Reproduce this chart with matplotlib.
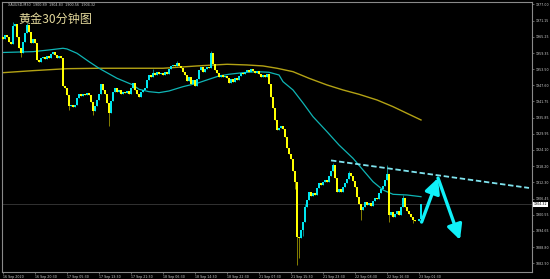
import numpy as np
import matplotlib as mpl
mpl.use('Agg')
import matplotlib.pyplot as plt
import matplotlib.transforms as mtransforms

# XAUUSD M30 closes, one per bar
first_open = 1965.0
closes = [
    1964.5, 1966.0, 1965.2, 1963.5, 1962.8, 1969.0, 1969.8, 1965.0, 1961.0, 1959.5,
    1963.4, 1966.5, 1969.5, 1967.0, 1963.0, 1964.5, 1963.0, 1956.8, 1956.0, 1957.5,
    1958.0, 1957.2, 1958.3, 1957.6, 1959.0, 1959.8, 1958.5, 1957.5, 1958.2, 1957.4,
    1947.3, 1946.5, 1944.0, 1940.0, 1940.6, 1939.8, 1940.5, 1943.0, 1944.5, 1943.8,
    1944.6, 1944.0, 1944.8, 1944.2, 1941.5, 1938.2, 1940.0, 1942.2, 1944.3, 1948.0,
    1946.0, 1944.5, 1941.0, 1937.5, 1941.8, 1945.0, 1946.8, 1945.2, 1946.0, 1944.5,
    1945.3, 1944.8, 1945.6, 1944.6, 1946.8, 1948.5, 1946.0, 1944.5, 1943.2, 1945.0,
    1945.8, 1946.5, 1949.5, 1951.4, 1950.8, 1952.0, 1951.5, 1952.3, 1951.6, 1952.2,
    1951.5, 1952.4, 1951.8, 1953.5, 1954.5, 1955.0, 1954.8, 1955.6, 1954.5, 1954.0,
    1952.5, 1951.4, 1949.3, 1950.5, 1948.0, 1949.5, 1947.2, 1950.0, 1953.2, 1954.2,
    1952.6, 1953.5, 1954.2, 1953.8, 1959.2, 1955.5, 1953.0, 1952.0, 1950.6, 1951.2,
    1950.6, 1951.0, 1950.2, 1948.5, 1950.0, 1948.8, 1950.4, 1949.5, 1951.0, 1952.2,
    1951.6, 1952.5, 1953.0, 1952.6, 1953.4, 1952.8, 1952.2, 1952.8, 1951.6, 1950.8,
    1951.3, 1950.5, 1951.8, 1948.0, 1943.4, 1939.5, 1935.0, 1931.5, 1932.0, 1932.8,
    1931.6, 1929.0, 1925.0, 1922.5, 1921.0, 1916.5, 1912.5, 1892.5, 1892.0, 1895.0,
    1898.0, 1903.4, 1906.0, 1908.8, 1907.5, 1908.3, 1907.8, 1910.3, 1912.1, 1911.3,
    1912.5, 1913.2, 1912.3, 1914.5, 1916.5, 1918.5, 1914.0, 1909.0, 1909.8, 1908.8,
    1910.5, 1912.0, 1913.5, 1915.6, 1914.6, 1913.0, 1910.6, 1907.0, 1904.5, 1902.3,
    1903.5, 1905.2, 1904.0, 1904.8, 1903.8, 1905.5, 1906.8, 1906.2, 1908.5, 1909.8,
    1911.0, 1913.2, 1915.5, 1900.5, 1901.5, 1899.8, 1901.0, 1902.0, 1900.5, 1903.4,
    1906.8, 1903.5, 1902.0, 1900.8, 1899.8, 1898.8, 1898.2, 1898.4, 1899.0, 1904.32,
]
# wicks that stick out of the bodies
wick_highs = {5: 1970.5, 12: 1970.3, 75: 1953.5, 87: 1956.5, 104: 1960.2,
              151: 1904.5, 165: 1919.5, 173: 1916.5, 192: 1918.6, 200: 1907.8}
wick_lows = {9: 1958.0, 33: 1938.5, 45: 1937.0, 53: 1933.0, 146: 1910.0,
             147: 1882.3, 148: 1885.0, 150: 1893.0, 179: 1898.6, 193: 1898.0, 205: 1897.5}

# moving averages, sampled (bar, price)
ma_fast_bars = [0, 15, 23, 30, 32, 37, 43, 48, 57, 65, 68, 73, 78, 83, 90, 97, 103, 108, 113, 120,
                127, 133, 138, 140, 145, 150, 155, 162, 168, 175, 180, 185, 190, 195, 202, 209]
ma_fast = [1959.55, 1959.85, 1960.46, 1961.08, 1960.83, 1959.26, 1956.21, 1953.81, 1950.17, 1947.74,
           1946.17, 1945.30, 1944.94, 1945.55, 1947.12, 1948.35, 1949.81, 1951.01, 1951.63, 1952.21,
           1952.57, 1952.35, 1951.37, 1948.94, 1945.92, 1941.19, 1936.21, 1930.75, 1925.92, 1921.08,
           1916.83, 1912.57, 1909.55, 1907.99, 1907.74, 1907.12]
ma_slow_bars = [0, 15, 32, 48, 65, 80, 97, 112, 122, 130, 137, 145, 153, 162, 170, 178, 187, 195, 203, 209]
ma_slow = [1952.21, 1952.94, 1953.66, 1953.81, 1953.81, 1953.81, 1954.65, 1955.26, 1955.01, 1954.65,
           1953.81, 1952.57, 1950.17, 1947.74, 1945.92, 1944.35, 1942.28, 1939.85, 1937.08, 1935.01]

# drawn objects: trend line and forecast arrows (bar, price)
trend_bars = [164, 263]
trend_prices = [1920.3, 1910.3]
arrow_bars = [209.3, 217.5, 228.5]
arrow_prices = [1897.9, 1913.9, 1891.4]

last_price = 1904.32
y_ticks = [1977.00, 1971.15, 1965.25, 1959.35, 1953.50, 1947.60, 1941.75, 1935.85, 1929.95,
           1924.10, 1918.20, 1912.30, 1906.45, 1900.55, 1894.65, 1888.80, 1882.90]
x_tick_labels = ['16 Sep 2020', '16 Sep 20:30', '17 Sep 05:30', '17 Sep 13:30', '17 Sep 21:30',
                 '18 Sep 06:30', '18 Sep 14:30', '18 Sep 22:30', '21 Sep 07:30', '21 Sep 15:30',
                 '21 Sep 23:30', '22 Sep 08:30', '22 Sep 16:30', '23 Sep 01:30']

closes = np.array(closes)
opens = np.concatenate([[first_open], closes[:-1]])
idx = np.arange(len(closes))
highs = np.maximum(opens, closes)
lows = np.minimum(opens, closes)
for k, v in wick_highs.items():
    highs[k] = v
for k, v in wick_lows.items():
    lows[k] = v
up = closes >= opens
body_bottom = np.minimum(opens, closes)
body = np.maximum(np.abs(closes - opens), 0.25)

fig = plt.figure(figsize=(5.5, 2.79), dpi=100, facecolor='black')
ax = fig.add_axes([2 / 550, 7 / 279, 530 / 550, 270 / 279], facecolor='black')

ax.axhline(last_price, color='#3a3a3a', lw=0.6, zorder=1)
ax.plot(ma_slow_bars, ma_slow, color='#b3a214', lw=1.0, zorder=2)
ax.plot(ma_fast_bars, ma_fast, color='#0fb5b5', lw=0.9, zorder=2)

ax.vlines(idx[up], lows[up], highs[up], color='#0a9a9a', lw=0.6, zorder=3)
ax.vlines(idx[~up], lows[~up], highs[~up], color='#9a9200', lw=0.6, zorder=3)
ax.bar(idx[up], body[up], bottom=body_bottom[up], width=0.75, color='#00e6f0', lw=0, zorder=4)
ax.bar(idx[~up], body[~up], bottom=body_bottom[~up], width=0.75, color='#ffff00', lw=0, zorder=4)

ax.plot(trend_bars, trend_prices, color='#7fe3ee', lw=1.3, ls=(0, (3, 1.5)), zorder=5)
for i in range(2):
    ax.annotate('', xy=(arrow_bars[i + 1], arrow_prices[i + 1]),
                xytext=(arrow_bars[i], arrow_prices[i]),
                arrowprops=dict(arrowstyle='-|>,head_length=0.9,head_width=0.45',
                                color='#10f0f8', lw=2.4, shrinkA=0, shrinkB=0),
                zorder=6)

ax.set_xlim(-0.5, 264.5)
ax.set_ylim(1879.74, 1977.9)

for s in ax.spines.values():
    s.set_color('#8a8a8a')
    s.set_linewidth(0.8)

ax.yaxis.tick_right()
ax.set_yticks(y_ticks)
ax.set_yticklabels(['%.2f' % v for v in y_ticks])
ax.set_xticks(np.arange(0, 16 * len(x_tick_labels), 16))
ax.set_xticklabels(x_tick_labels, ha='left')
ax.tick_params(axis='both', colors='#8a8a8a', labelcolor='#d0d0d0', labelsize=2.3,
               length=1.5, width=0.5, pad=0.8)

trans = mtransforms.blended_transform_factory(ax.transAxes, ax.transData)
ax.text(1.003, last_price, '%.2f' % last_price, transform=trans, fontsize=2.3,
        color='black', va='center', ha='left',
        bbox=dict(facecolor='white', edgecolor='none', pad=0.5))

fig.text(8 / 550, 1 - 4.5 / 279, 'XAUUSD,M30  1900.89  1904.83  1900.56  1904.32',
         color='#c8c8c8', fontsize=2.4, va='center', ha='left')
fig.text(18 / 550, 1 - 19 / 279, '黄金30分钟图', color='#e4d99c', fontsize=8.7,
         family=['Noto Sans CJK SC', 'DejaVu Sans'], va='center', ha='left')

plt.savefig('out.png', dpi=100, facecolor='black')
